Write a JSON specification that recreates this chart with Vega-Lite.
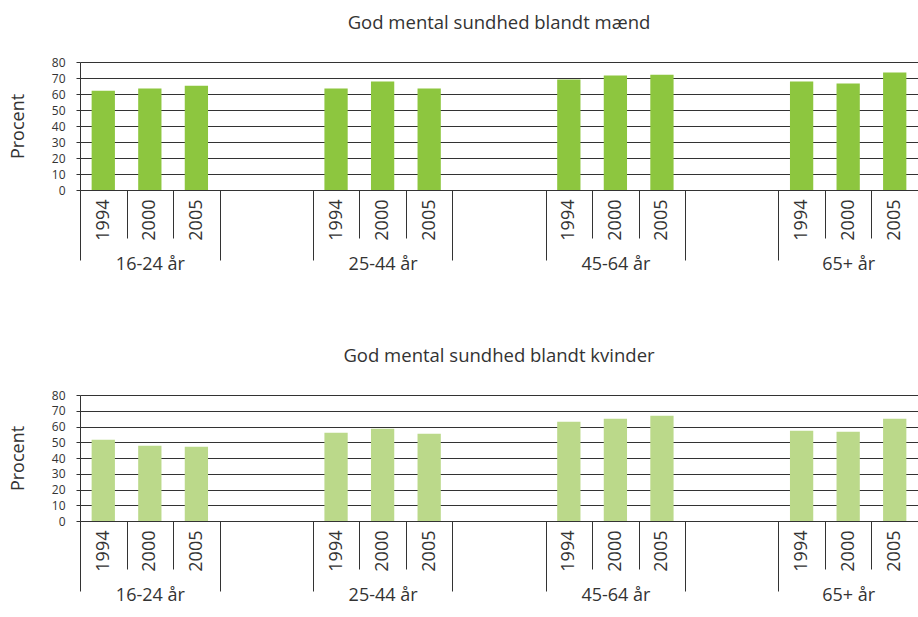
{
  "$schema": "https://vega.github.io/schema/vega-lite/v6.json",
  "padding": {"left": 9, "top": 13, "right": 0, "bottom": 0},
  "config": {
    "font": "Open Sans",
    "view": {"stroke": null},
    "axis": {"labelColor": "#333", "titleColor": "#333", "labelFont": "Open Sans", "titleFont": "Open Sans"},
    "title": {"font": "Open Sans", "fontSize": 18.5, "fontWeight": "normal", "color": "#333", "anchor": "middle", "offset": 24}
  },
  "datasets": {
    "maend": [
      {"group": "16-24 år", "year": "1994", "value": 62.1},
      {"group": "16-24 år", "year": "2000", "value": 63.4},
      {"group": "16-24 år", "year": "2005", "value": 65.2},
      {"group": "25-44 år", "year": "1994", "value": 63.4},
      {"group": "25-44 år", "year": "2000", "value": 67.8},
      {"group": "25-44 år", "year": "2005", "value": 63.4},
      {"group": "45-64 år", "year": "1994", "value": 69.0},
      {"group": "45-64 år", "year": "2000", "value": 71.5},
      {"group": "45-64 år", "year": "2005", "value": 72.1},
      {"group": "65+ år", "year": "1994", "value": 67.8},
      {"group": "65+ år", "year": "2000", "value": 66.5},
      {"group": "65+ år", "year": "2005", "value": 73.4}
    ],
    "kvinder": [
      {"group": "16-24 år", "year": "1994", "value": 51.6},
      {"group": "16-24 år", "year": "2000", "value": 47.8},
      {"group": "16-24 år", "year": "2005", "value": 47.2},
      {"group": "25-44 år", "year": "1994", "value": 56.1},
      {"group": "25-44 år", "year": "2000", "value": 58.6},
      {"group": "25-44 år", "year": "2005", "value": 55.4},
      {"group": "45-64 år", "year": "1994", "value": 63.0},
      {"group": "45-64 år", "year": "2000", "value": 64.9},
      {"group": "45-64 år", "year": "2005", "value": 66.9},
      {"group": "65+ år", "year": "1994", "value": 57.3},
      {"group": "65+ år", "year": "2000", "value": 56.7},
      {"group": "65+ år", "year": "2005", "value": 65.0}
    ]
  },
  "vconcat": [
    {
      "title": {"text": "God mental sundhed blandt mænd"},
      "width": 838,
      "height": 128,
      "data": {"name": "maend"},
      "transform": [{"calculate": "datum.group + ' ' + datum.year", "as": "slot"}],
      "layer": [
        {
          "mark": {"type": "bar", "color": "#8DC63F", "width": {"band": 0.5}},
          "encoding": {
            "x": {
              "field": "slot", "type": "nominal",
              "scale": {"domain": ["16-24 år 1994","16-24 år 2000","16-24 år 2005","16-24 år x","16-24 år y","25-44 år 1994","25-44 år 2000","25-44 år 2005","25-44 år x","25-44 år y","45-64 år 1994","45-64 år 2000","45-64 år 2005","45-64 år x","45-64 år y","65+ år 1994","65+ år 2000","65+ år 2005"], "paddingInner": 0, "paddingOuter": 0},
              "axis": {
                "title": null, "orient": "bottom", "domain": false, "grid": false,
                "tickBand": "extent", "tickSize": 48,
                "tickColor": {"condition": {"test": "datum.extra ? false : (slice(datum.value + '', -1) == 'x')", "value": "transparent"}, "value": "#333"},
                "labelExpr": "indexof(['1994','2000','2005'], slice(datum.value + '', -4)) >= 0 ? slice(datum.value + '', -4) : ''",
                "labelAngle": -90, "labelAlign": "right", "labelBaseline": "middle", "labelFontSize": 18, "labelPadding": -39
              }
            },
            "y": {
              "field": "value", "type": "quantitative",
              "scale": {"domain": [0, 80], "nice": false},
              "axis": {
                "title": "Procent", "titleFontSize": 18, "titleFontWeight": "normal", "titlePadding": 24,
                "values": [0,10,20,30,40,50,60,70,80], "tickSize": 4, "tickColor": "#333",
                "domainColor": "#333", "gridColor": "#333", "labelFontSize": 12, "labelPadding": 11
              }
            }
          }
        },
        {
          "mark": {"type": "bar", "opacity": 0, "width": {"band": 0.5}},
          "encoding": {
            "x": {
              "field": "slot", "type": "nominal",
              "axis": {
                "title": null, "orient": "bottom", "domain": false, "grid": false,
                "tickBand": "extent", "tickSize": 70,
                "tickColor": {"condition": {"test": "datum.extra ? true : (slice(datum.value + '', -4) == '2005' || slice(datum.value + '', -1) == 'y')", "value": "#333"}, "value": "transparent"},
                "labelExpr": "slice(datum.value + '', -4) == '2000' ? slice(datum.value + '', 0, -5) : ''",
                "labelAngle": 0, "labelAlign": "center", "labelBaseline": "top", "labelFontSize": 18, "labelPadding": -5
              }
            }
          }
        }
      ],
      "resolve": {"axis": {"x": "independent"}}
    },
    {
      "title": {"text": "God mental sundhed blandt kvinder"},
      "width": 838,
      "height": 126,
      "data": {"name": "kvinder"},
      "transform": [{"calculate": "datum.group + ' ' + datum.year", "as": "slot"}],
      "layer": [
        {
          "mark": {"type": "bar", "color": "#BBD98A", "width": {"band": 0.5}},
          "encoding": {
            "x": {
              "field": "slot", "type": "nominal",
              "scale": {"domain": ["16-24 år 1994","16-24 år 2000","16-24 år 2005","16-24 år x","16-24 år y","25-44 år 1994","25-44 år 2000","25-44 år 2005","25-44 år x","25-44 år y","45-64 år 1994","45-64 år 2000","45-64 år 2005","45-64 år x","45-64 år y","65+ år 1994","65+ år 2000","65+ år 2005"], "paddingInner": 0, "paddingOuter": 0},
              "axis": {
                "title": null, "orient": "bottom", "domain": false, "grid": false,
                "tickBand": "extent", "tickSize": 48,
                "tickColor": {"condition": {"test": "datum.extra ? false : (slice(datum.value + '', -1) == 'x')", "value": "transparent"}, "value": "#333"},
                "labelExpr": "indexof(['1994','2000','2005'], slice(datum.value + '', -4)) >= 0 ? slice(datum.value + '', -4) : ''",
                "labelAngle": -90, "labelAlign": "right", "labelBaseline": "middle", "labelFontSize": 18, "labelPadding": -39
              }
            },
            "y": {
              "field": "value", "type": "quantitative",
              "scale": {"domain": [0, 80], "nice": false},
              "axis": {
                "title": "Procent", "titleFontSize": 18, "titleFontWeight": "normal", "titlePadding": 24,
                "values": [0,10,20,30,40,50,60,70,80], "tickSize": 4, "tickColor": "#333",
                "domainColor": "#333", "gridColor": "#333", "labelFontSize": 12, "labelPadding": 11
              }
            }
          }
        },
        {
          "mark": {"type": "bar", "opacity": 0, "width": {"band": 0.5}},
          "encoding": {
            "x": {
              "field": "slot", "type": "nominal",
              "axis": {
                "title": null, "orient": "bottom", "domain": false, "grid": false,
                "tickBand": "extent", "tickSize": 70,
                "tickColor": {"condition": {"test": "datum.extra ? true : (slice(datum.value + '', -4) == '2005' || slice(datum.value + '', -1) == 'y')", "value": "#333"}, "value": "transparent"},
                "labelExpr": "slice(datum.value + '', -4) == '2000' ? slice(datum.value + '', 0, -5) : ''",
                "labelAngle": 0, "labelAlign": "center", "labelBaseline": "top", "labelFontSize": 18, "labelPadding": -5
              }
            }
          }
        }
      ],
      "resolve": {"axis": {"x": "independent"}}
    }
  ],
  "spacing": 73
}
